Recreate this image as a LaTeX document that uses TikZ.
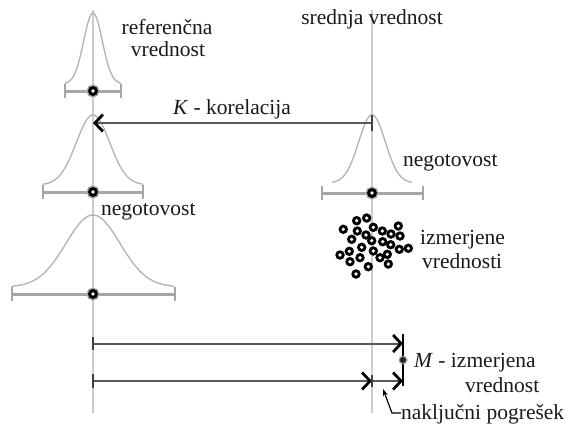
\documentclass[tikz,border=0pt]{standalone}
\usepackage{fontspec}
\setmainfont{Liberation Serif}
\usetikzlibrary{arrows.meta}
\begin{document}
\begin{tikzpicture}[x=1pt,y=-1pt,
  axisline/.style={draw=black!20,line width=1.5},
  gauss/.style={draw=black!30,line width=1.3},
  errbar/.style={draw=black!35,line width=3},
  conn/.style={draw=black!65,line width=2},
  tick/.style={draw=black!75,line width=1.6},
  hd/.style={-{Straight Barb[length=8,width=17,line width=2.8,color=black]}},
  lbl/.style={font=\fontsize{21.5}{24}\selectfont,inner sep=0,text=black!90},
  mdot/.style={circle,inner sep=0,minimum size=9.5,fill=black,
    path picture={\fill[white] (path picture bounding box.center) circle(1.8);}},
  cdot/.style={mdot,minimum size=10,preaction={draw=black!35,line width=3}},
  ]
\useasboundingbox (0,0) rectangle (576,432);
% axes
\coordinate (lt) at (93,10); \coordinate (lb) at (93,413);
\coordinate (rt) at (372,10); \coordinate (rb) at (372,413);
\draw[axisline] (lt) -- (lb);
\draw[axisline] (rt) -- (rb);
% gaussians
\draw[gauss] plot[domain=-3:3,samples=80,smooth] ({93+9.3*\x},{84-71*exp(-0.5*\x*\x)});
\draw[gauss] plot[domain=-3:3,samples=80,smooth] ({93+16.7*\x},{185-70*exp(-0.5*\x*\x)});
\draw[gauss] plot[domain=-3:3,samples=80,smooth] ({93+27*\x},{287-72*exp(-0.5*\x*\x)});
\draw[gauss] plot[domain=-3:3,samples=80,smooth] ({372+13.3*\x},{183-68*exp(-0.5*\x*\x)});
% error bars
\foreach \y/\a/\b in {91/65/121, 192/43/143, 294/12/175, 193/322/423}{
  \draw[errbar] (\a,\y) -- (\b,\y);
  \draw[errbar,line width=2.2] (\a,\y-7) -- (\a,\y+7);
  \draw[errbar,line width=2.2] (\b,\y-7) -- (\b,\y+7);
}
\node[cdot] (c1) at (93,91) {};
\node[cdot] (c2) at (93,192) {};
\node[cdot] (c3) at (93,294) {};
\node[cdot] (c4) at (372,193) {};
% scattered measured values
\foreach \px/\py [count=\i] in {343.3/229.3, 356.7/220.7, 366.7/218, 357.3/231, 373.3/227.3, 382.3/231, 391/234, 398.3/226, 400/236, 351.7/239.3, 366/235, 371.7/240.7, 382.7/241.7, 390.7/244.7, 399.3/249.3, 408.3/248.3, 361.7/247.3, 373.3/251, 349.3/251.3, 340/255, 350/261.7, 360/257.7, 380/257.7, 387.3/254.3, 388.3/264, 368.3/266.7, 356/274}{
  \node[mdot] (s\i) at (\px,\py) {};
}
% K correlation arrow
\coordinate (kr) at (372,123); \coordinate (kl) at (93,123);
\draw[conn,hd] (kr) -- (kl);
\draw[tick] (372,115) -- (372,131);
% lower arrows
\coordinate (a1s) at (93,343.5); \coordinate (a1e) at (403,343.5);
\coordinate (a2s) at (93,381); \coordinate (a2m) at (372,381); \coordinate (a2e) at (403,381);
\draw[conn,hd] (a1s) -- (a1e);
\draw[conn,hd] (a2s) -- (a2m);
\draw[conn,hd] (a2m) -- (a2e);
\draw[tick] (93,337) -- (93,350);
\draw[tick] (93,374) -- (93,388);
\draw[tick] (372,375) -- (372,387);
\draw[draw=black,line width=1.5] (403,334) -- (403,386);
\node[circle,inner sep=0,minimum size=6,fill=black!85,preaction={draw=black!40,line width=2.5}] (mm) at (403,360) {};
% labels
\node[lbl,anchor=base] (ref1) at (167,34) {referenčna};
\node[lbl,anchor=base] (ref2) at (168,56) {vrednost};
\node[lbl,anchor=base] (sred) at (372,24) {srednja vrednost};
\node[lbl,anchor=base] (kor) at (232,114) {\textit{K} - korelacija};
\node[lbl,anchor=base west] (neg1) at (403,166) {negotovost};
\node[lbl,anchor=base west] (neg2) at (101,215) {negotovost};
\node[lbl,anchor=base west] (izm1) at (420,244) {izmerjene};
\node[lbl,anchor=base west] (izm2) at (422,268) {vrednosti};
\node[lbl,anchor=base west] (mlab) at (414,367) {\textit{M} - izmerjena};
\node[lbl,anchor=base west] (mlab2) at (465,392) {vrednost};
\node[lbl,anchor=base west] (nak) at (401,419) {naključni pogrešek};
% leader
\coordinate (np) at (383,389); \coordinate (nc) at (392,413);
\draw[draw=black,line width=1.2,-{Stealth[length=7,width=5]}] (nak.west |- nc) -- (nc) -- (np);
\end{tikzpicture}
\end{document}
